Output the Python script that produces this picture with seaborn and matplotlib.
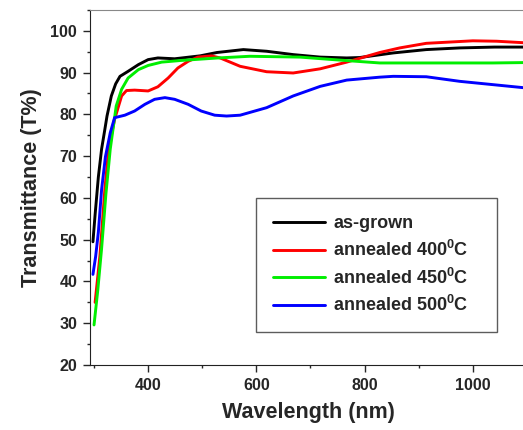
import pandas as pd
import matplotlib
matplotlib.use('Agg')
import matplotlib.pyplot as plt
import seaborn as sns
from matplotlib.ticker import MultipleLocator

# wavelength (nm) / transmittance (%)
wl_grown = [298, 302, 308, 314, 320, 324, 332, 340, 348, 363, 382, 400, 418, 449, 496, 527, 576, 619,
            668, 718, 767, 791, 853, 914, 976, 1040, 1100]
t_grown = [49.5, 56, 65, 71.7, 76.4, 79.6, 84.4, 87.3, 89.1, 90.3, 91.9, 93.1, 93.5, 93.3, 94.0, 94.8, 95.5, 95.1,
           94.3, 93.7, 93.5, 93.6, 94.7, 95.5, 95.9, 96.1, 96.1]

wl_400 = [302, 311, 320, 327, 338, 351, 360, 375, 400, 418, 437, 455, 474, 492, 517, 533, 570, 619,
          668, 718, 767, 804, 828, 865, 914, 1000, 1044, 1100]
t_400 = [35, 46.3, 62, 71.7, 78.8, 84.4, 85.7, 85.8, 85.6, 86.6, 88.7, 91.1, 92.7, 93.7, 94.0, 93.5, 91.5, 90.2,
         89.9, 90.9, 92.5, 93.9, 94.8, 95.9, 97.0, 97.6, 97.5, 97.1]

wl_450 = [300, 307, 314, 322, 330, 341, 351, 363, 382, 400, 425, 461, 529, 588, 681, 742, 828, 865, 1037, 1100]
t_450 = [29.6, 38, 47.9, 61, 71.7, 82, 86, 88.7, 90.7, 91.7, 92.5, 92.9, 93.5, 93.9, 93.7, 93.1, 92.3, 92.3, 92.3, 92.4]

wl_500 = [298, 303, 308, 314, 321, 330, 338, 357, 375, 394, 412, 431, 449, 474, 498, 523, 545, 570,
          619, 668, 718, 767, 828, 853, 914, 976, 1100]
t_500 = [41.7, 46, 51.8, 62, 69.8, 75.6, 79.2, 79.8, 80.8, 82.4, 83.6, 84.0, 83.6, 82.4, 80.8, 79.8, 79.6, 79.8,
         81.6, 84.4, 86.7, 88.2, 88.9, 89.1, 89.0, 87.9, 86.3]

labels = ['as-grown',
          r'annealed 400$^{\mathbf{0}}$C',
          r'annealed 450$^{\mathbf{0}}$C',
          r'annealed 500$^{\mathbf{0}}$C']
colors = ['#000000', '#ff0000', '#00ee00', '#0000ff']

frames = []
for lab, wl, t in zip(labels, [wl_grown, wl_400, wl_450, wl_500], [t_grown, t_400, t_450, t_500]):
    frames.append(pd.DataFrame({'wl': wl, 't': t, 'sample': lab}))
df = pd.concat(frames, ignore_index=True)

sns.set_style('ticks')
plt.rcParams['font.family'] = ['Liberation Sans', 'DejaVu Sans']
plt.rcParams['font.weight'] = 'bold'
plt.rcParams['mathtext.fontset'] = 'custom'
plt.rcParams['mathtext.bf'] = 'Liberation Sans:bold'
plt.rcParams['mathtext.rm'] = 'Liberation Sans:bold'

fig = plt.figure(figsize=(5.23, 4.30), dpi=100)
ax = fig.add_axes([0.1715, 0.151, 0.836, 0.826])

sns.lineplot(data=df, x='wl', y='t', hue='sample', palette=colors, ax=ax,
             linewidth=2.1, sort=False, estimator=None)

ax.set_xlim(292, 1100)
ax.set_ylim(20, 105)
ax.xaxis.set_major_locator(MultipleLocator(200))
ax.xaxis.set_minor_locator(MultipleLocator(100))
ax.yaxis.set_major_locator(MultipleLocator(10))
ax.yaxis.set_minor_locator(MultipleLocator(5))
ax.tick_params(which='major', direction='out', length=5, width=1, labelsize=11.5, pad=4)
ax.tick_params(which='minor', direction='out', length=2.5, width=1)
for lab in ax.get_xticklabels() + ax.get_yticklabels():
    lab.set_fontweight('bold')

ax.set_xlabel('Wavelength (nm)', fontsize=15.5, fontweight='bold', labelpad=7)
ax.set_ylabel('Transmittance (T%)', fontsize=15.5, fontweight='bold', labelpad=6)

sns.despine(ax=ax, top=False, right=True)
ax.spines['top'].set_color('#888888')
for s in ['left', 'bottom']:
    ax.spines[s].set_color('#222222')

leg = ax.legend(loc='upper left', bbox_to_anchor=(0.380, 0.132, 0.551, 0.338), mode='expand',
                fancybox=False, frameon=True, edgecolor='#333333',
                prop={'size': 13, 'weight': 'bold'},
                handlelength=2.9, borderpad=0.95, labelspacing=0.42, handletextpad=0.45,
                borderaxespad=0)
leg.get_frame().set_linewidth(1.0)
for h in leg.get_lines():
    h.set_linewidth(2.1)

fig.savefig('out.png', dpi=100)
